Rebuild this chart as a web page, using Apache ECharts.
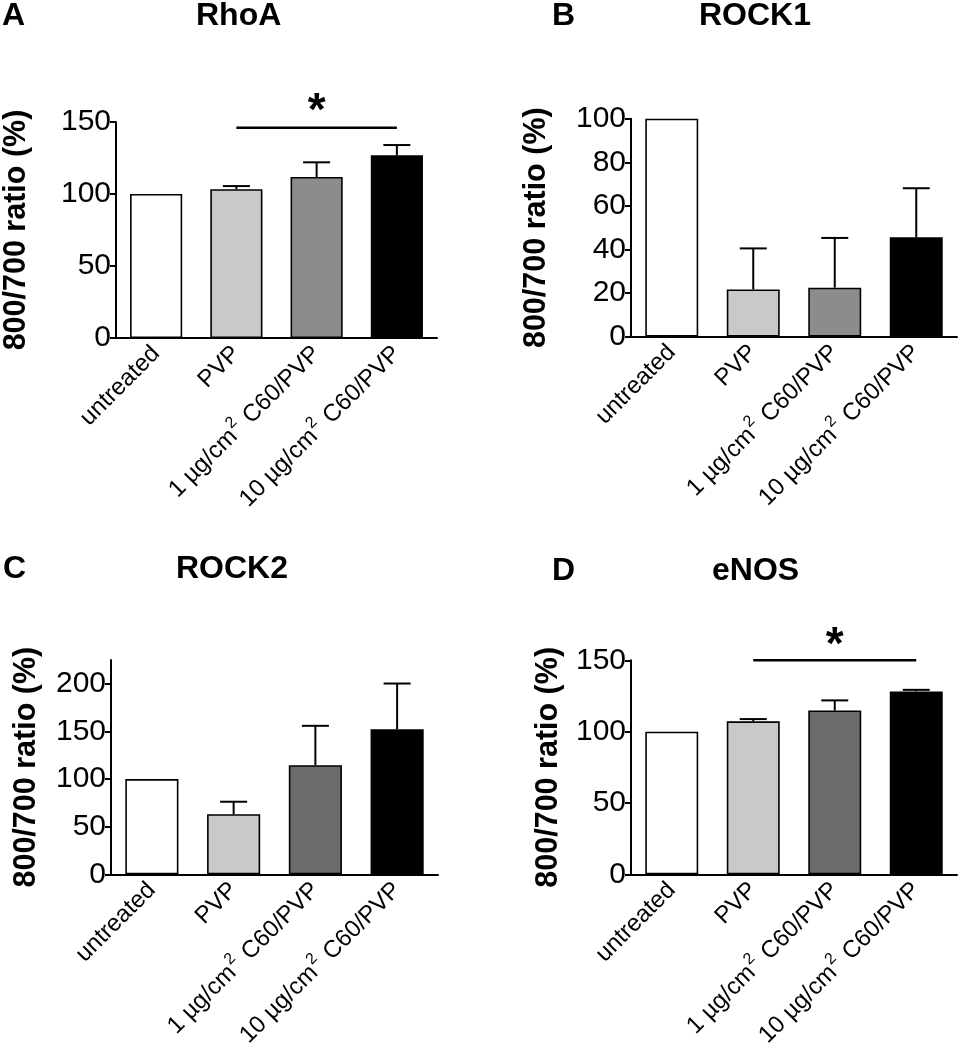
<!DOCTYPE html>
<html>
<head>
<meta charset="utf-8">
<script src="https://cdn.jsdelivr.net/npm/echarts@6/dist/echarts.min.js"></script>
<style>html,body{margin:0;padding:0;background:#fff;}#c{width:958px;height:1050px;}</style>
</head>
<body>
<div id="c"></div>
<script>
const categories = ['untreated', 'PVP', '1 µg/cm² C60/PVP', '10 µg/cm² C60/PVP'];

const rhoaMean = [100, 103.3, 111.8, 126.9];
const rhoaErr  = [0, 2.2, 10.2, 7.1];
const rock1Mean = [100, 21.7, 22.5, 45.6];
const rock1Err  = [0, 18.8, 22.8, 22.5];
const rock2Mean = [100, 63.1, 114.5, 152.4];
const rock2Err  = [0, 13.1, 41.4, 47.9];
const enosMean = [100, 107.2, 114.8, 128.2];
const enosErr  = [0, 1.6, 7.1, 1.1];

const ticksA = [0, 50, 100, 150];
const ticksB = [0, 20, 40, 60, 80, 100];
const ticksC = [0, 50, 100, 150, 200];
const ticksD = [0, 50, 100, 150];

const sigA = { from: 1, to: 3, y: 146, star: 157 };
const sigD = { from: 1, to: 3, y: 150, star: 160 };

const colorsAB = ['#ffffff', '#c9c9c9', '#8c8c8c', '#000000'];
const colorsCD = ['#ffffff', '#c9c9c9', '#6b6b6b', '#000000'];

const FONT = '"Liberation Sans", Arial, sans-serif';

const panels = [
  { title: 'RhoA', letter: 'A', mean: rhoaMean, err: rhoaErr, ticks: ticksA, max: 150, colors: colorsAB,
    grid: { left: 112, top: 122, width: 325, height: 216 }, nameGap: 84, sig: sigA,
    letterPos: [2, 0], titlePos: [196, 0] },
  { title: 'ROCK1', letter: 'B', mean: rock1Mean, err: rock1Err, ticks: ticksB, max: 100, colors: colorsAB,
    grid: { left: 631, top: 118.7, width: 326, height: 218 }, nameGap: 79, sig: null,
    letterPos: [552, 0], titlePos: [699, 0] },
  { title: 'ROCK2', letter: 'C', mean: rock2Mean, err: rock2Err, ticks: ticksC, max: 225, colors: colorsCD,
    grid: { left: 111, top: 660, width: 327, height: 218 }, nameGap: 69, sig: null,
    letterPos: [3, 553], titlePos: [176, 553] },
  { title: 'eNOS', letter: 'D', mean: enosMean, err: enosErr, ticks: ticksD, max: 150, colors: colorsCD,
    grid: { left: 631, top: 660.3, width: 326, height: 217.4 }, nameGap: 67, sig: sigD,
    letterPos: [552, 555], titlePos: [712, 555] }
];

const titles = [], grids = [], xAxes = [], yAxes = [], series = [];
const titleStyle = { fontFamily: FONT, fontWeight: 'bold', fontSize: 32, color: '#000' };

panels.forEach((p, i) => {
  titles.push({ text: p.letter, left: p.letterPos[0], top: p.letterPos[1], padding: 0, textStyle: titleStyle });
  titles.push({ text: p.title, left: p.titlePos[0], top: p.titlePos[1], padding: 0, textStyle: titleStyle });
  grids.push(Object.assign({ containLabel: false }, p.grid));
  xAxes.push({
    type: 'category', gridIndex: i, data: categories,
    axisLine: { show: true, lineStyle: { color: '#000', width: 2 } },
    axisTick: { show: false },
    axisLabel: {
      rotate: 45, margin: 12, color: '#000', fontFamily: FONT, fontSize: 24, interval: 0,
      formatter: v => v.replace('²', '{sup|2}'),
      rich: { sup: { fontFamily: FONT, fontSize: 16, color: '#000', verticalAlign: 'top', padding: [0, 2, 18, 1] } }
    },
    splitLine: { show: false }
  });
  yAxes.push({
    type: 'value', gridIndex: i, min: 0, max: p.max,
    name: '800/700 ratio (%)', nameLocation: 'middle', nameGap: p.nameGap,
    nameTextStyle: { fontFamily: FONT, fontWeight: 'bold', fontSize: 30.5, color: '#000' },
    axisLine: { show: true, lineStyle: { color: '#000', width: 2 } },
    axisTick: { show: true, length: 6, lineStyle: { color: '#000', width: 2 }, customValues: p.ticks },
    axisLabel: { color: '#000', fontFamily: FONT, fontSize: 30, margin: 5, customValues: p.ticks },
    splitLine: { show: false }
  });
  series.push({
    type: 'bar', xAxisIndex: i, yAxisIndex: i, barCategoryGap: '35%',
    data: p.mean.map((v, k) => ({ value: v, itemStyle: { color: p.colors[k] } })),
    itemStyle: { borderColor: '#000', borderWidth: 1.6 },
    silent: true, animation: false
  });
  series.push({
    type: 'custom', xAxisIndex: i, yAxisIndex: i, silent: true, animation: false, z: 3,
    data: p.mean.map((v, k) => [k, v, v + p.err[k]]),
    renderItem: (params, api) => {
      const x = api.value(0), lo = api.value(1), hi = api.value(2);
      if (hi <= lo) return { type: 'group', children: [] };
      const b = api.coord([x, lo]), t = api.coord([x, hi]);
      const half = 13.5;
      const st = { stroke: '#000', lineWidth: 2 };
      return { type: 'group', children: [
        { type: 'line', shape: { x1: b[0], y1: b[1], x2: t[0], y2: t[1] }, style: st },
        { type: 'line', shape: { x1: t[0] - half, y1: t[1], x2: t[0] + half, y2: t[1] }, style: st }
      ] };
    }
  });
  if (p.sig) {
    series.push({
      type: 'custom', xAxisIndex: i, yAxisIndex: i, silent: true, animation: false, z: 4,
      data: [[p.sig.from, p.sig.to, p.sig.y, p.sig.star]],
      renderItem: (params, api) => {
        const a = api.coord([api.value(0), api.value(2)]);
        const b = api.coord([api.value(1), api.value(2)]);
        const s = api.coord([(api.value(0) + api.value(1)) / 2, api.value(3)]);
        return { type: 'group', children: [
          { type: 'line', shape: { x1: a[0], y1: a[1], x2: b[0], y2: b[1] }, style: { stroke: '#000', lineWidth: 2.5 } },
          { type: 'text', x: s[0], y: s[1],
            style: { text: '*', fill: '#000', font: 'bold 46px "Liberation Sans", Arial, sans-serif', align: 'center', verticalAlign: 'middle' } }
        ] };
      }
    });
  }
});

const chart = echarts.init(document.getElementById('c'), null, { renderer: 'canvas' });
chart.setOption({
  backgroundColor: '#fff',
  animation: false,
  title: titles,
  grid: grids,
  xAxis: xAxes,
  yAxis: yAxes,
  series: series
});
</script>
</body>
</html>
